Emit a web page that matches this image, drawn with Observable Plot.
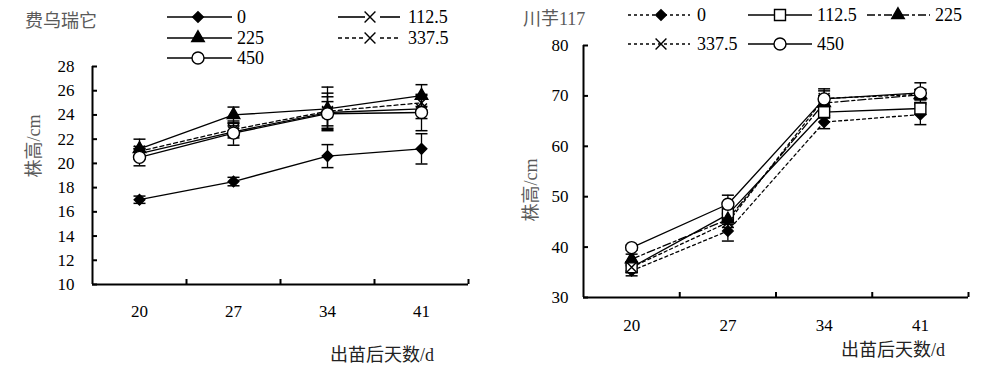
<!DOCTYPE html>
<html><head><meta charset="utf-8">
<script src="https://cdn.jsdelivr.net/npm/d3@7"></script>
<script src="https://cdn.jsdelivr.net/npm/@observablehq/plot@0.6"></script>
<style>
body{margin:0;background:#fff;}
#wrap{position:relative;width:1000px;height:371px;overflow:hidden;font-family:"Liberation Serif","Noto Sans CJK SC",serif;}
#wrap svg text{font-family:"Liberation Serif","Noto Sans CJK SC",serif;}
.panel{position:absolute;top:0;}
.txt{position:absolute;white-space:nowrap;line-height:1;}
#legend{position:absolute;left:0;top:0;}
</style></head><body><div id="wrap"></div>
<script>
// ---------- data ----------
const days = [20, 27, 34, 41];
const rates = ["0", "112.5", "225", "337.5", "450"];

// 费乌瑞它 (left panel), plant height cm
const fw_0      = [17.0, 18.5, 20.6, 21.2];
const fw_0_err  = [0.3, 0.35, 0.95, 1.25];
const fw_112    = [20.8, 22.6, 24.2, 24.5];
const fw_112_err= [0.4, 0.5, 1.3, 0.8];
const fw_225    = [21.2, 24.0, 24.5, 25.6];
const fw_225_err= [0.8, 0.65, 1.8, 0.9];
const fw_337    = [21.0, 22.8, 24.3, 25.0];
const fw_337_err= [0.4, 0.5, 1.5, 0.6];
const fw_450    = [20.5, 22.5, 24.1, 24.2];
const fw_450_err= [0.7, 1.0, 1.0, 1.5];

// 川芋117 (right panel)
const cy_0      = [35.3, 43.2, 64.8, 66.3];
const cy_0_err  = [1.0, 2.0, 1.3, 2.0];
const cy_112    = [36.0, 46.5, 66.8, 67.5];
const cy_112_err= [1.0, 1.2, 1.2, 1.2];
const cy_225    = [37.6, 45.5, 68.6, 70.2];
const cy_225_err= [1.0, 1.0, 1.5, 1.0];
const cy_337    = [36.0, 44.9, 69.5, 70.3];
const cy_337_err= [1.0, 1.0, 1.5, 1.0];
const cy_450    = [39.9, 48.5, 69.4, 70.6];
const cy_450_err= [0.5, 1.8, 2.0, 2.0];

const fwYTicks = [10, 12, 14, 16, 18, 20, 22, 24, 26, 28];
const cyYTicks = [30, 40, 50, 60, 70, 80];
const xBoundaries = [23.5, 30.5, 37.5, 44.5];

const titleLeft = "费乌瑞它";
const titleRight = "川芋117";
const yTitle = "株高/cm";
const xTitle = "出苗后天数/d";

function toRows(series) {
  const rows = [];
  series.forEach(([rate, vals, errs]) => vals.forEach((v, i) => rows.push({rate, day: days[i], value: v, err: errs[i]})));
  return rows;
}
const fwRows = toRows([["0", fw_0, fw_0_err], ["112.5", fw_112, fw_112_err], ["225", fw_225, fw_225_err], ["337.5", fw_337, fw_337_err], ["450", fw_450, fw_450_err]]);
const cyRows = toRows([["0", cy_0, cy_0_err], ["112.5", cy_112, cy_112_err], ["225", cy_225, cy_225_err], ["337.5", cy_337, cy_337_err], ["450", cy_450, cy_450_err]]);

// ---------- styles ----------
const FONT = "'Liberation Serif', 'Noto Sans CJK SC', serif";
const fwStyle = {
  "0":     {symbol: "diamond2", r: 4.8, fill: "black", dash: null},
  "112.5": {symbol: "times", r: 5, fill: "none", dash: null},
  "225":   {symbol: "triangle2", r: 6, fill: "black", dash: null},
  "337.5": {symbol: "times", r: 5, fill: "none", dash: "4,3"},
  "450":   {symbol: "circle", r: 6, fill: "white", dash: null}
};
const cyStyle = {
  "0":     {symbol: "diamond2", r: 4.8, fill: "black", dash: "3,3"},
  "112.5": {symbol: "square2", r: 7, fill: "white", dash: null},
  "225":   {symbol: "triangle2", r: 6, fill: "black", dash: "8,3,3,3"},
  "337.5": {symbol: "times", r: 5, fill: "none", dash: "3,3"},
  "450":   {symbol: "circle", r: 6, fill: "white", dash: null}
};
const capSymbol = {draw(ctx, size) { const w = Math.sqrt(size / Math.PI); ctx.moveTo(-w, 0); ctx.lineTo(w, 0); }};

function panel(rows, styles, o) {
  const W = 500, H = 371;
  const plotW = W - o.marginLeft - o.marginRight, plotH = H - o.marginTop - o.marginBottom;
  const marks = [];
  for (const rate of rates) {
    const s = styles[rate];
    marks.push(Plot.line(rows.filter(r => r.rate === rate), {x: "day", y: "value", stroke: "black", strokeWidth: 1.3, strokeDasharray: s.dash}));
  }
  const eb = rows.filter(r => r.err > 0);
  marks.push(Plot.ruleX(eb, {x: "day", y1: r => r.value - r.err, y2: r => r.value + r.err, stroke: "black", strokeWidth: 1.3}));
  marks.push(Plot.dot(eb, {x: "day", y: r => r.value + r.err, symbol: capSymbol, r: 6, fill: "none", stroke: "black", strokeWidth: 1.5}));
  marks.push(Plot.dot(eb, {x: "day", y: r => r.value - r.err, symbol: capSymbol, r: 6, fill: "none", stroke: "black", strokeWidth: 1.5}));
  for (const rate of rates) {
    const s = styles[rate];
    marks.push(Plot.dot(rows.filter(r => r.rate === rate), {x: "day", y: "value", symbol: s.symbol, r: s.r, fill: s.fill, stroke: "black", strokeWidth: 1.4}));
  }
  // axes
  marks.push(Plot.ruleX([o.xDomain[0]], {stroke: "black", strokeWidth: 2}));
  marks.push(Plot.ruleY([o.yDomain[0]], {stroke: "black", strokeWidth: 2}));
  marks.push(Plot.tickY(o.yTicks, {y: d => d, insetRight: plotW - 5, stroke: "black", strokeWidth: 2}));
  marks.push(Plot.tickX(xBoundaries, {x: d => d, insetTop: plotH - 5, stroke: "black", strokeWidth: 2}));
  marks.push(Plot.axisY(o.yTicks, {tickSize: 0, tickPadding: o.yPad, fontSize: 17, fontFamily: FONT, fill: "black"}));
  marks.push(Plot.axisX(days, {tickSize: 0, tickPadding: o.xPad, fontSize: 17, fontFamily: FONT, fill: "black"}));
  return Plot.plot({
    width: W, height: H,
    marginLeft: o.marginLeft, marginRight: o.marginRight, marginTop: o.marginTop, marginBottom: o.marginBottom,
    x: {type: "linear", domain: o.xDomain, label: null},
    y: {domain: o.yDomain, label: null},
    style: {fontFamily: FONT, fontSize: "17px", color: "black", background: "transparent", overflow: "visible"},
    marks
  });
}

const wrap = document.getElementById("wrap");
const left = panel(fwRows, fwStyle, {marginLeft: 92, marginRight: 32, marginTop: 66, marginBottom: 87, xDomain: [16.5, 44.5], yDomain: [10, 28], yTicks: fwYTicks, yPad: 18, xPad: 20});
left.classList.add("panel"); left.style.left = "0px";
wrap.appendChild(left);
const right = panel(cyRows, cyStyle, {marginLeft: 83, marginRight: 32, marginTop: 45, marginBottom: 74, xDomain: [16.5, 44.5], yDomain: [30, 80], yTicks: cyYTicks, yPad: 15, xPad: 21});
right.classList.add("panel"); right.style.left = "500px";
wrap.appendChild(right);

// ---------- texts ----------
function addText(str, css) {
  const d = document.createElement("div");
  d.className = "txt"; d.textContent = str;
  Object.assign(d.style, css);
  wrap.appendChild(d);
}
addText(titleLeft, {left: "25px", top: "12px", fontSize: "18px", color: "#5a5a5a"});
addText(titleRight, {left: "523px", top: "10px", fontSize: "18px", color: "#5a5a5a"});
addText(yTitle, {left: "34px", top: "146px", fontSize: "18px", color: "#5a5a5a", transform: "translate(-50%,-50%) rotate(-90deg)"});
addText(yTitle, {left: "531px", top: "190px", fontSize: "18px", color: "#5a5a5a", transform: "translate(-50%,-50%) rotate(-90deg)"});
addText(xTitle, {left: "330px", top: "346px", fontSize: "18px", color: "#222"});
addText(xTitle, {left: "841px", top: "341px", fontSize: "18px", color: "#222"});

// ---------- legends ----------
const legendItems = [
  {st: fwStyle, rate: "0",     x1: 167, x2: 232, mx: 198, y: 17, lx: 237},
  {st: fwStyle, rate: "225",   x1: 167, x2: 232, mx: 198, y: 38, lx: 237},
  {st: fwStyle, rate: "450",   x1: 167, x2: 232, mx: 198, y: 58, lx: 237},
  {st: fwStyle, rate: "112.5", x1: 338, x2: 400, mx: 370, y: 17, lx: 408, gap: true},
  {st: fwStyle, rate: "337.5", x1: 338, x2: 400, mx: 370, y: 38, lx: 408, gap: true},
  {st: cyStyle, rate: "0",     x1: 628, x2: 690, mx: 661, y: 15, lx: 697},
  {st: cyStyle, rate: "112.5", x1: 748, x2: 812, mx: 780, y: 15, lx: 817},
  {st: cyStyle, rate: "225",   x1: 867, x2: 930, mx: 898, y: 15, lx: 935},
  {st: cyStyle, rate: "337.5", x1: 628, x2: 690, mx: 661, y: 44, lx: 697},
  {st: cyStyle, rate: "450",   x1: 748, x2: 812, mx: 780, y: 44, lx: 817}
];
const symMap = {diamond2: d3.symbolDiamond2, times: d3.symbolTimes, triangle2: d3.symbolTriangle2, circle: d3.symbolCircle, square2: d3.symbolSquare2};
const lg = d3.create("svg").attr("id", "legend").attr("width", 1000).attr("height", 80);
for (const it of legendItems) {
  const s = it.st[it.rate];
  const segs = it.gap ? [[it.x1, it.mx - 5], [it.mx + 10, it.x2]] : [[it.x1, it.x2]];
  for (const [a, b] of segs) {
    lg.append("line").attr("x1", a).attr("x2", b).attr("y1", it.y).attr("y2", it.y)
      .attr("stroke", "black").attr("stroke-width", 1.6).attr("stroke-dasharray", s.dash);
  }
  lg.append("path").attr("d", d3.symbol(symMap[s.symbol], Math.PI * s.r * s.r)())
    .attr("transform", `translate(${it.mx},${it.y})`)
    .attr("fill", s.fill).attr("stroke", "black").attr("stroke-width", 1.4);
  lg.append("text").attr("x", it.lx).attr("y", it.y).attr("dy", "0.35em").text(it.rate)
    .attr("font-size", 18).attr("font-family", FONT).attr("fill", "black");
}
wrap.appendChild(lg.node());
</script>
</body></html>
